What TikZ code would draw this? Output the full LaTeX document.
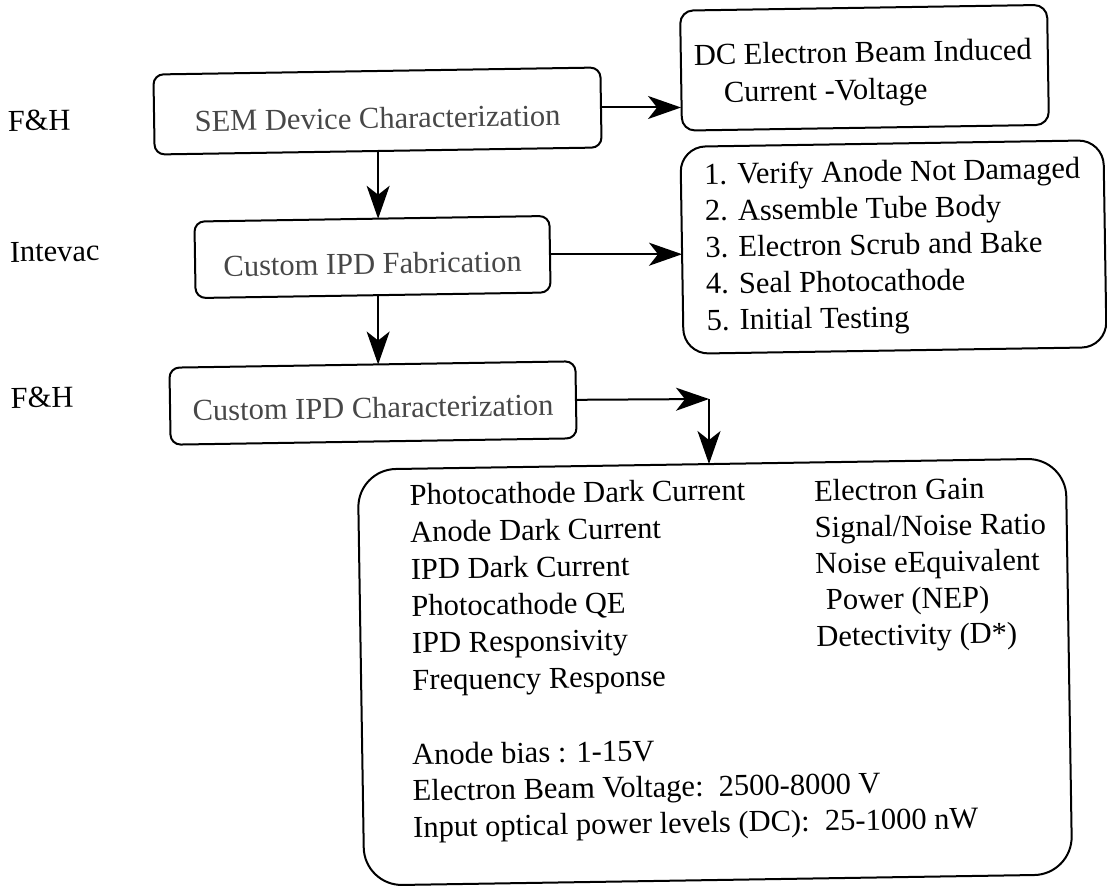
\documentclass[tikz,border=0pt]{standalone}
\usepackage{fontspec}
\setmainfont{Liberation Serif}
\usetikzlibrary{arrows.meta}
\begin{document}
\begin{tikzpicture}[x=1pt,y=-1pt,
  every node/.style={font=\fontsize{30.5pt}{36.5pt}\selectfont, inner sep=0pt, outer sep=0pt, rotate=0.9},
  pbox/.style={draw, line width=2pt, rounded corners=10pt},
  ptext/.style={text=black!72},
  lbl/.style={anchor=base west},
  blk/.style={anchor=north west, align=left},
  arr/.style={line width=2pt, -{Stealth[length=33pt, width=23pt, inset=9pt]}}]
\useasboundingbox (0,0) rectangle (1107,886);

% left labels
\node[lbl] (lab1) at (8,131) {F\&H};
\node[lbl] (lab2) at (10,262) {Intevac};
\node[lbl] (lab3) at (11,408) {F\&H};

% process boxes
\node[pbox, ptext, minimum width=447pt, minimum height=80pt, text height=35pt, text depth=0pt] (sem) at (377.5,111) {SEM Device Characterization};
\node[pbox, ptext, minimum width=355pt, minimum height=76.5pt, text height=34pt, text depth=0pt] (fab) at (372.5,257) {Custom IPD Fabrication};
\node[pbox, ptext, minimum width=406pt, minimum height=77pt, text height=30pt, text depth=0pt] (char) at (373,403) {Custom IPD Characterization};

% DC box
\node[pbox, rounded corners=13pt, minimum width=367pt, minimum height=120pt] (dc) at (864.5,67.75) {};
\node[lbl] (dc1) at (694,65) {DC Electron Beam Induced};
\node[lbl] (dc2) at (724,102) {Current -Voltage};

% steps box
\node[pbox, rounded corners=25pt, minimum width=423pt, minimum height=207pt, align=left] (steps) at (893.5,247)
  {1. Verify Anode Not Damaged\\2. Assemble Tube Body\\3. Electron Scrub and Bake\\4. Seal Photocathode\\5. Initial Testing};

% big box
\node[pbox, rounded corners=38pt, minimum width=708pt, minimum height=416pt] (big) at (715,672) {};
\node[blk, font=\fontsize{30.5pt}{37pt}\selectfont] (leftcol) at (409.5,484)
  {Photocathode Dark Current\\Anode Dark Current\\IPD Dark Current\\Photocathode QE\\IPD Responsivity\\Frequency Response};
\node[blk, font=\fontsize{30.5pt}{36.3pt}\selectfont] (rightcol) at (814,480)
  {Electron Gain\\Signal/Noise Ratio\\Noise eEquivalent\\\hspace*{10pt}Power (NEP)\\Detectivity (D*)};
\node[blk, font=\fontsize{30.5pt}{36.3pt}\selectfont] (cond) at (412,743.5)
  {Anode bias : 1-15V\\Electron Beam Voltage:\ \ 2500-8000 V\\Input optical power levels (DC):\ \ 25-1000 nW};

% connectors
\draw[arr] (sem.east) -- (sem.east -| dc.west);
\draw[arr] (fab.east) -- (fab.east -| steps.west);
\draw[arr] (sem.south) -- (sem.south |- fab.north);
\draw[arr] (sem.south |- fab.south) -- (sem.south |- char.north);
\coordinate (corner) at (709,399);
\draw[arr] (char.east) -- (corner);
\draw[arr] (corner) -- (corner |- big.north);
\end{tikzpicture}
\end{document}
